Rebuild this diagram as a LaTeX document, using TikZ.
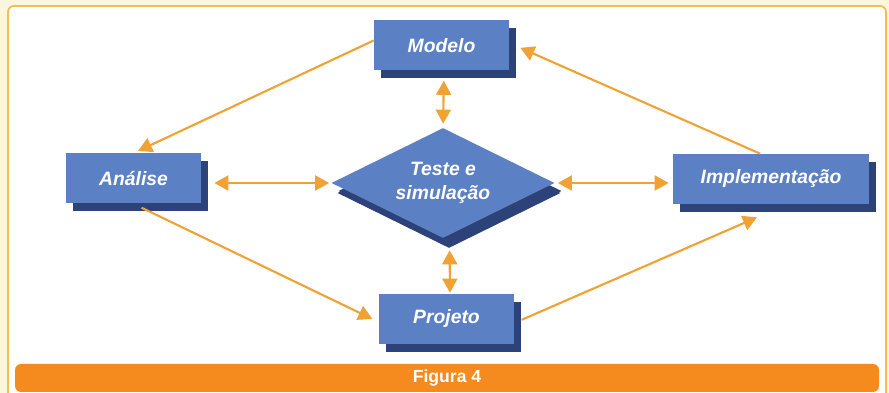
\documentclass[tikz,border=0pt]{standalone}
\usepackage{fontspec}
\setmainfont{Liberation Sans}
\usepackage{xcolor}
\usepackage{tikz}
\usetikzlibrary{arrows.meta, calc, shapes.geometric, shadows}

\definecolor{boxblue}{RGB}{92,128,196}
\definecolor{shadowblue}{RGB}{44,66,120}
\definecolor{arrowc}{RGB}{240,162,52}
\definecolor{barc}{RGB}{245,138,30}
\definecolor{framec}{RGB}{242,190,80}
\definecolor{bgc}{RGB}{251,246,222}

\begin{document}
\begin{tikzpicture}[
  font=\fontsize{11}{12.5}\selectfont\bfseries\itshape,
  >={Triangle[length=2.8mm, width=3mm]},
  blk/.style={fill=boxblue, text=white, inner sep=2pt, align=center,
              drop shadow={shadow xshift=0.14cm, shadow yshift=-0.16cm,
                           fill=shadowblue, opacity=1}},
  stage/.style={blk, minimum width=2.7cm, minimum height=1.0cm},
  check/.style={blk, diamond, shape aspect=2, minimum width=4.46cm,
                minimum height=2.2cm, inner sep=1pt,
                drop shadow={shadow xshift=0.12cm, shadow yshift=-0.2cm,
                             fill=shadowblue, opacity=1}},
  arr/.style={->, line width=1.2pt, draw=arrowc, fill=arrowc},
  dbl/.style={<->, line width=1.2pt, draw=arrowc, fill=arrowc},
]

% ============ FRAME ============
\useasboundingbox (0,0) rectangle (17.78,7.86);
\fill[bgc] (0,0) rectangle (17.78,7.86);
\begin{scope}
\clip (0,0) rectangle (17.78,7.86);
\draw[framec, line width=1pt, fill=white, rounded corners=0.12cm]
  (0.16,-0.4) rectangle (17.72,7.74);
\end{scope}
\node[fill=barc, rounded corners=0.12cm, minimum width=17.28cm,
      minimum height=0.56cm, inner sep=0pt, text=white,
      font=\fontsize{10}{11}\selectfont\bfseries] (fig) at (8.94,0.3) {Figura 4};

% ============ NODES ============
\node[stage] (modelo)  at (8.83,6.95) {Modelo};
\node[stage] (analise) at (2.67,4.29) {Análise};
\node[stage, minimum width=3.92cm] (impl) at (15.42,4.28) {Implementação};
\node[stage] (projeto) at (8.93,1.48) {Projeto};
\node[check] (teste)   at (8.86,4.2) {Teste e\\[1pt]simulação};

% ============ ARROWS ============

% outer cycle
\draw[arr, shorten >=0.1cm] ([yshift=0.1cm]modelo.west) -- (analise.north);
\draw[arr, shorten <=0.18cm, shorten >=0.14cm]
  (analise.south) -- ([yshift=-0.06cm]projeto.west);
\draw[arr, shorten <=0.16cm]
  ([yshift=-0.08cm]projeto.east) -- ([xshift=-0.28cm, yshift=-0.26cm]impl.south);
\draw[arr, shorten >=0.24cm]
  ([xshift=-0.22cm]impl.north) -- ([yshift=0.05cm]modelo.east);

% links to the test stage
\draw[dbl, shorten <=0.2cm, shorten >=0.08cm]
  ([xshift=0.05cm]modelo.south) -- (teste.north);
\draw[dbl, shorten <=0.24cm, shorten >=0.02cm]
  ([xshift=0.13cm]teste.south) -- ([xshift=0.07cm]projeto.north);
\draw[dbl, shorten <=0.26cm, shorten >=0.04cm]
  (teste.west -| analise.east) -- (teste.west);
\draw[dbl, shorten <=0.06cm, shorten >=0.08cm]
  (teste.east) -- (teste.east -| impl.west);

\end{tikzpicture}
\end{document}
